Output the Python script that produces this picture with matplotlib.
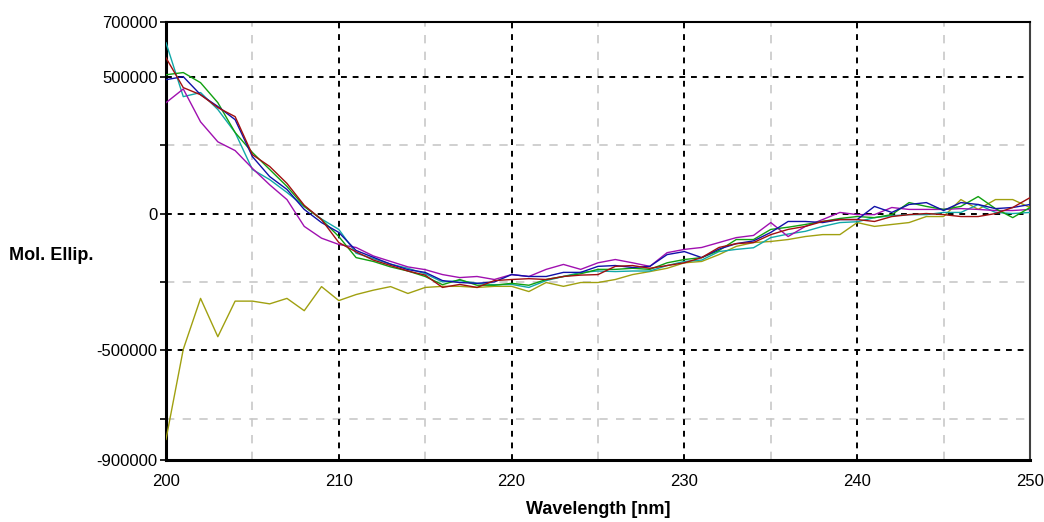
import matplotlib
matplotlib.use('Agg')
import matplotlib.pyplot as plt
import numpy as np

plt.rcParams['font.family'] = ['Liberation Sans', 'DejaVu Sans']

# wavelength grid, 1 nm steps
wavelength = np.arange(200, 251)

# molar ellipticity, values in thousands
blue = [489, 500, 434, 391, 343, 208, 135, 88, 15, -33,
        -69, -135, -160, -185, -205, -215, -245, -252, -255, -250,
        -223, -230, -230, -215, -215, -193, -190, -197, -193, -150,
        -139, -161, -130, -110, -100, -69, -29, -29, -33, -22,
        -22, 26, 4, 33, 40, 11, 40, 33, 18, 22,
        33]
red = [569, 460, 434, 387, 354, 215, 172, 110, 30, -22,
       -106, -140, -170, -190, -210, -225, -270, -259, -270, -245,
       -241, -238, -241, -230, -225, -223, -193, -190, -200, -190,
       -180, -161, -124, -110, -106, -77, -58, -47, -29, -22,
       -22, -29, -11, -4, 0, -4, -11, -11, 0, 22,
       58]
green = [507, 515, 478, 405, 296, 223, 161, 99, 26, -22,
         -84, -161, -175, -195, -210, -230, -260, -241, -262, -262,
         -255, -262, -241, -230, -220, -204, -204, -200, -204, -180,
         -168, -161, -135, -95, -95, -58, -50, -40, -29, -18,
         -11, -15, -4, 40, 26, 15, 26, 62, 18, -15,
         22]
cyan = [624, 427, 442, 380, 296, 161, 124, 77, 26, -20,
        -58, -145, -165, -185, -200, -220, -250, -245, -255, -260,
        -259, -270, -245, -230, -215, -210, -212, -210, -210, -190,
        -175, -170, -139, -131, -125, -88, -75, -65, -47, -33,
        -30, -15, -8, -4, -4, 4, 4, 33, 4, 0,
        4]
magenta = [405, 455, 335, 262, 230, 165, 105, 51, -47, -90,
           -113, -124, -155, -175, -195, -205, -223, -234, -230, -241,
           -223, -230, -204, -186, -204, -180, -168, -180, -193, -143,
           -131, -124, -106, -88, -80, -33, -84, -47, -22, 4,
           -4, -4, 22, 15, 15, 15, 18, 15, 11, 11,
           15]
olive = [-825, -496, -310, -450, -320, -320, -330, -310, -355, -267,
         -318, -296, -280, -267, -292, -270, -266, -266, -270, -266,
         -266, -285, -252, -266, -252, -252, -241, -223, -212, -200,
         -180, -175, -150, -120, -106, -102, -95, -84, -77, -77,
         -33, -47, -40, -33, -11, -11, 51, 15, 51, 51,
         22]

y_ticks = [-900000, -500000, 0, 500000, 700000]

fig = plt.figure(figsize=(10.44, 5.22), dpi=100)
ax = fig.add_axes([0.159, 0.119, 0.8276, 0.839])

# grid first so the spectra sit on top
for x in range(205, 250, 10):
    ax.axvline(x, color='#c8c8c8', lw=1.2, ls=(0, (5, 5)), zorder=1)
for y in [250000, -250000, -750000]:
    ax.axhline(y, color='#c8c8c8', lw=1.2, ls=(0, (5, 5)), zorder=1)
for x in range(210, 250, 10):
    ax.axvline(x, color='black', lw=1.4, ls=(0, (3, 3)), zorder=1)
for y in [500000, 0, -500000]:
    ax.axhline(y, color='black', lw=1.4, ls=(0, (3, 3)), zorder=1)

series = [(olive, '#a0a010'), (cyan, '#10a8a8'), (magenta, '#a010b0'),
          (green, '#10a010'), (blue, '#1010a8'), (red, '#a01010')]
for vals, col in series:
    ax.plot(wavelength, np.array(vals) * 1000, color=col, lw=1.0, zorder=3)

ax.set_xlim(200, 250)
ax.set_ylim(-900000, 700000)
ax.set_xticks(range(200, 251, 10))
ax.set_yticks(y_ticks)
ax.set_yticklabels([str(v) for v in y_ticks])
ax.set_yticks([250000, -250000, -750000], minor=True)
ax.tick_params(axis='both', labelsize=12, length=4, width=1.2, direction='out')
ax.tick_params(axis='y', which='minor', length=4, width=1.2)
ax.tick_params(axis='y', pad=2)
ax.tick_params(axis='x', length=0, pad=10)

for side in ['left', 'bottom']:
    ax.spines[side].set_linewidth(2.2)
ax.spines['top'].set_linewidth(1.5)
ax.spines['right'].set_linewidth(1.5)
ax.spines['right'].set_color('#404040')

ax.set_xlabel('Wavelength [nm]', fontsize=13, fontweight='bold', labelpad=9)
fig.text(0.009, 0.51, 'Mol. Ellip.', fontsize=13, fontweight='bold',
         ha='left', va='center')

fig.savefig('out.png', dpi=100)
